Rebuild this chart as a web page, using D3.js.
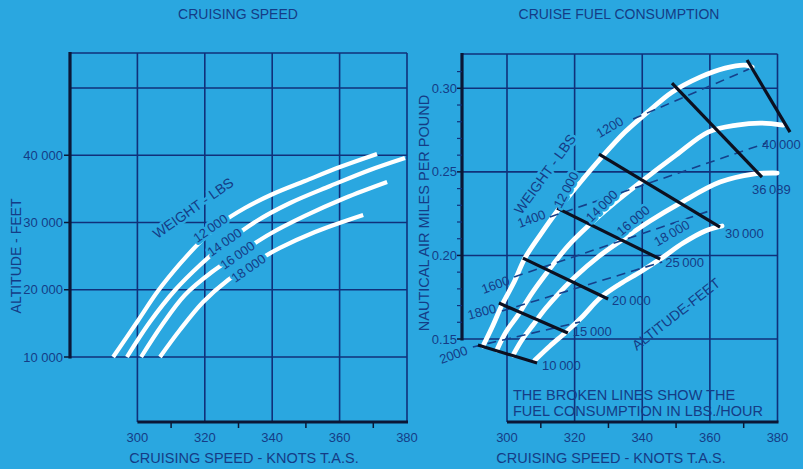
<!DOCTYPE html>
<html>
<head>
<meta charset="utf-8">
<script src="https://cdn.jsdelivr.net/npm/d3@7"></script>
<style>
  html, body { margin: 0; padding: 0; background: #2aa7e0; }
  svg { display: block; }
  text { font-family: "Liberation Sans", Arial, Helvetica, sans-serif; fill: #153c86; }
  .halo { stroke: #2aa7e0; stroke-width: 5px; paint-order: stroke; stroke-linejoin: round; }
</style>
</head>
<body>
<svg id="chart" width="803" height="469"></svg>
<script>
// ---------- axis ticks ----------
const speedTicks = [300, 320, 340, 360, 380];
const speedMinorTicks = [310, 330, 350, 370];
const altitudeTicks = [10000, 20000, 30000, 40000];
const altitudeTickLabels = ["10 000", "20 000", "30 000", "40 000"];
const altitudeGridLines = [10000, 20000, 30000, 40000, 50000];
const nmppTicks = [0.15, 0.20, 0.25, 0.30];
const nmppTickLabels = ["0.15", "0.20", "0.25", "0.30"];
const nmppMinorTicks = [0.16, 0.17, 0.18, 0.19, 0.21, 0.22, 0.23, 0.24, 0.26, 0.27, 0.28, 0.29, 0.31];

// ---------- cruising speed: [knots TAS, altitude ft] per weight ----------
const weightLabels = ["12\u2009000", "14\u2009000", "16\u2009000", "18\u2009000"];
const speed12000 = [[292.8, 10000], [299.9, 15200], [306.1, 19800], [312.6, 23830], [318.6, 27100], [324.5, 29780], [331.9, 32160], [340.2, 34240], [349.7, 36170], [360.1, 38250], [371.1, 40190]];
const speed14000 = [[296.9, 10000], [303.7, 15200], [311.2, 19960], [318.6, 23680], [326.6, 27100], [334.9, 30070], [345.3, 32900], [357.2, 35430], [369.0, 37810], [379.4, 39590]];
const speed16000 = [[301.1, 10000], [307.3, 14760], [314.1, 19220], [322.1, 22640], [330.4, 25460], [339.3, 28290], [349.7, 30970], [361.6, 33640], [374.1, 36020]];
const speed18000 = [[306.7, 10000], [312.6, 14010], [319.5, 18180], [326.9, 21450], [334.0, 23830], [342.3, 26210], [352.7, 28590], [367.0, 31120]];

// ---------- fuel consumption: [knots TAS, nautical air miles per pound] per weight ----------
const nmpp12000 = [[292.9, 0.1458], [295.9, 0.1584], [298.5, 0.1703], [302.1, 0.1841], [305.3, 0.1984], [309.8, 0.2122], [315.1, 0.2272], [321.0, 0.2421], [327.8, 0.2583], [334.9, 0.2738], [342.3, 0.2870], [348.8, 0.2977], [357.1, 0.3067], [364.5, 0.3121], [370.4, 0.3139], [372.5, 0.3127]];
const nmpp14000 = [[297.0, 0.1434], [299.7, 0.1542], [303.3, 0.1644], [307.4, 0.1775], [312.4, 0.1913], [318.0, 0.2056], [324.3, 0.2182], [331.7, 0.2313], [339.9, 0.2445], [350.0, 0.2600], [359.5, 0.2738], [368.0, 0.2780], [374.9, 0.2792], [381.7, 0.2780]];
const nmpp16000 = [[301.8, 0.1404], [304.4, 0.1494], [307.7, 0.1584], [311.5, 0.1685], [315.7, 0.1781], [320.4, 0.1877], [326.9, 0.1990], [334.0, 0.2092], [342.3, 0.2206], [351.2, 0.2313], [363.0, 0.2439], [372.8, 0.2487], [379.9, 0.2493]];
const nmpp18000 = [[308.3, 0.1374], [312.7, 0.1458], [317.5, 0.1542], [322.5, 0.1638], [327.5, 0.1745], [333.4, 0.1829], [339.4, 0.1901], [345.3, 0.1978], [352.1, 0.2074], [358.6, 0.2146], [363.6, 0.2176]];

// altitude lines (ft) across the weight curves
const altitudeLevels = ["10\u2009000", "15\u2009000", "20\u2009000", "25\u2009000", "30\u2009000", "36\u2009089", "40\u2009000"];
const altitudeLineStart = [[291.4, 0.1464], [297.6, 0.1715], [304.7, 0.1984], [314.8, 0.2283], [327.2, 0.2606], [348.8, 0.3031], [371.0, 0.3169]];
const altitudeLineEnd = [[308.9, 0.1356], [318.0, 0.1536], [329.9, 0.1739], [345.3, 0.1978], [363.0, 0.2170], [375.4, 0.2469], [383.7, 0.2738]];

// fuel flow lines (lbs/hour), drawn broken
const fuelFlowLabels = ["2000", "1800", "1600", "1400", "1200"];
const fuelFlowStart = [[289.9, 0.1452], [298.5, 0.1667], [302.1, 0.1871], [312.7, 0.2230], [337.3, 0.2816]];
const fuelFlowEnd = [[321.6, 0.1602], [345.9, 0.1961], [360.7, 0.2272], [376.6, 0.2672], [371.6, 0.3115]];

// ---------- drawing ----------
const svg = d3.select("#chart");
const gridColor = "#10307a";
const axisColor = "#0b1736";

function seg(g, x1, y1, x2, y2, w, c) {
  g.append("line").attr("x1", x1).attr("y1", y1).attr("x2", x2).attr("y2", y2)
    .attr("stroke", c).attr("stroke-width", w);
}
function label(g, x, y, txt, size, anchor, rot) {
  const t = g.append("text").attr("font-size", size).attr("text-anchor", anchor || "start").text(txt);
  if (rot) t.attr("transform", `translate(${x},${y}) rotate(${rot})`);
  else t.attr("x", x).attr("y", y);
  return t;
}

// ===== left: cruising speed =====
const L = svg.append("g");
const xL = d3.scaleLinear().domain([280, 380]).range([70, 407]);
const yL = d3.scaleLinear().domain([10000, 50000]).range([357, 88]);
const lTop = 53, lBottom = 422;

speedTicks.forEach(s => seg(L, xL(s), lTop, xL(s), lBottom, 1.6, gridColor));
altitudeGridLines.forEach(a => seg(L, xL(280), yL(a), xL(380), yL(a), 1.6, gridColor));
seg(L, xL(280), lTop, xL(380), lTop, 1.6, gridColor);
seg(L, xL(280), lTop - 1, xL(280), yL(10000) + 1.5, 3.2, axisColor);
seg(L, xL(300), lBottom, xL(380) + 1, lBottom, 3.2, axisColor);
speedMinorTicks.forEach(s => seg(L, xL(s), lBottom, xL(s), lBottom + 6, 1.5, axisColor));
altitudeTicks.forEach((a, i) => {
  seg(L, xL(280) - 6, yL(a), xL(280), yL(a), 1.5, axisColor);
  label(L, xL(280) - 7, yL(a) + 4.5, altitudeTickLabels[i], 13, "end");
});
speedTicks.forEach(s => label(L, xL(s), 442, String(s), 13, "middle"));
label(L, 244, 463, "CRUISING SPEED - KNOTS T.A.S.", 14.5, "middle");
label(L, 21, 256, "ALTITUDE - FEET", 14, "middle", -90);
label(L, 238, 19, "CRUISING SPEED", 14, "middle");

const lineL = d3.line().x(d => xL(d[0])).y(d => yL(d[1])).curve(d3.curveCatmullRom.alpha(0.5));
[speed12000, speed14000, speed16000, speed18000].forEach(c => {
  L.append("path").attr("d", lineL(c)).attr("fill", "none")
    .attr("stroke", "#ffffff").attr("stroke-width", 4.2).attr("stroke-linecap", "butt");
});
label(L, 196, 212, "WEIGHT - LBS", 14, "middle", -35).attr("class", "halo");
[[213, 232], [227, 246], [240, 259], [251, 272]].forEach((p, i) =>
  label(L, p[0], p[1], weightLabels[i], 13, "middle", -35).attr("class", "halo"));

// ===== right: cruise fuel consumption =====
const R = svg.append("g");
const xR = d3.scaleLinear().domain([300, 380]).range([507, 777.5]);
const yR = d3.scaleLinear().domain([0.15, 0.30]).range([339, 88.3]);
const rLeft = 462, rTop = 54, rBottom = 422;

speedTicks.forEach(s => seg(R, xR(s), rTop, xR(s), rBottom, 1.6, gridColor));
nmppTicks.forEach(v => seg(R, rLeft, yR(v), xR(380), yR(v), 1.6, gridColor));
seg(R, rLeft, rTop, xR(380), rTop, 1.6, gridColor);
seg(R, rLeft, rTop - 1, rLeft, yR(0.15) + 1.5, 3.2, axisColor);
seg(R, xR(300), rBottom, xR(380) + 1, rBottom, 3.2, axisColor);
speedMinorTicks.forEach(s => seg(R, xR(s), rBottom, xR(s), rBottom + 6, 1.5, axisColor));
nmppMinorTicks.forEach(v => seg(R, rLeft - 5, yR(v), rLeft, yR(v), 1.2, gridColor));
nmppTicks.forEach((v, i) => {
  seg(R, rLeft - 5, yR(v), rLeft, yR(v), 1.5, axisColor);
  label(R, rLeft - 5, yR(v) + 4.5, nmppTickLabels[i], 13, "end");
});
speedTicks.forEach(s => label(R, xR(s), 442, String(s), 13, "middle"));
label(R, 611, 463, "CRUISING SPEED - KNOTS T.A.S.", 14.5, "middle");
label(R, 429, 213, "NAUTICAL AIR MILES PER POUND", 14.5, "middle", -90);
label(R, 619, 19, "CRUISE FUEL CONSUMPTION", 14, "middle");
label(R, 513, 400, "THE BROKEN LINES SHOW THE", 14.5, "start");
label(R, 513, 416, "FUEL CONSUMPTION IN LBS./HOUR", 14.5, "start");

const lineR = d3.line().x(d => xR(d[0])).y(d => yR(d[1])).curve(d3.curveCatmullRom.alpha(0.5));
[nmpp12000, nmpp14000, nmpp16000, nmpp18000].forEach(c => {
  R.append("path").attr("d", lineR(c)).attr("fill", "none")
    .attr("stroke", "#ffffff").attr("stroke-width", 4.8).attr("stroke-linecap", "round");
});

// broken fuel flow lines
fuelFlowLabels.forEach((f, i) => {
  R.append("path").attr("d", d3.line().x(d => xR(d[0])).y(d => yR(d[1]))([fuelFlowStart[i], fuelFlowEnd[i]]))
    .attr("fill", "none").attr("stroke", "#15408a").attr("stroke-width", 1.6)
    .attr("stroke-dasharray", "9,6");
});
[[455, 359, -20], [483, 316, -15], [497, 289, -20], [533, 223, -20], [612, 131, -30]].forEach((p, i) =>
  label(R, p[0], p[1], fuelFlowLabels[i], 13, "middle", p[2]));

// altitude lines
altitudeLevels.forEach((a, i) => {
  R.append("line")
    .attr("x1", xR(altitudeLineStart[i][0])).attr("y1", yR(altitudeLineStart[i][1]))
    .attr("x2", xR(altitudeLineEnd[i][0])).attr("y2", yR(altitudeLineEnd[i][1]))
    .attr("stroke", "#0c1020").attr("stroke-width", 3.2);
});
const altLabelOffset = [[5, 7], [5, 3], [4, 6], [5, 8], [5, 11], [-10, 17], [-28, 17]];
altitudeLevels.forEach((a, i) => {
  const e = altitudeLineEnd[i];
  label(R, xR(e[0]) + altLabelOffset[i][0], yR(e[1]) + altLabelOffset[i][1], a, 13, "start");
});

label(R, 549, 177, "WEIGHT - LBS", 14, "middle", -54).attr("class", "halo");
[[570, 192, -62], [605, 209, -45], [636, 224, -40], [674, 237, -30]].forEach((p, i) =>
  label(R, p[0], p[1], weightLabels[i], 13, "middle", p[2]).attr("class", "halo"));
label(R, 679, 318, "ALTITUDE-FEET", 14, "middle", -38);
</script>
</body>
</html>
